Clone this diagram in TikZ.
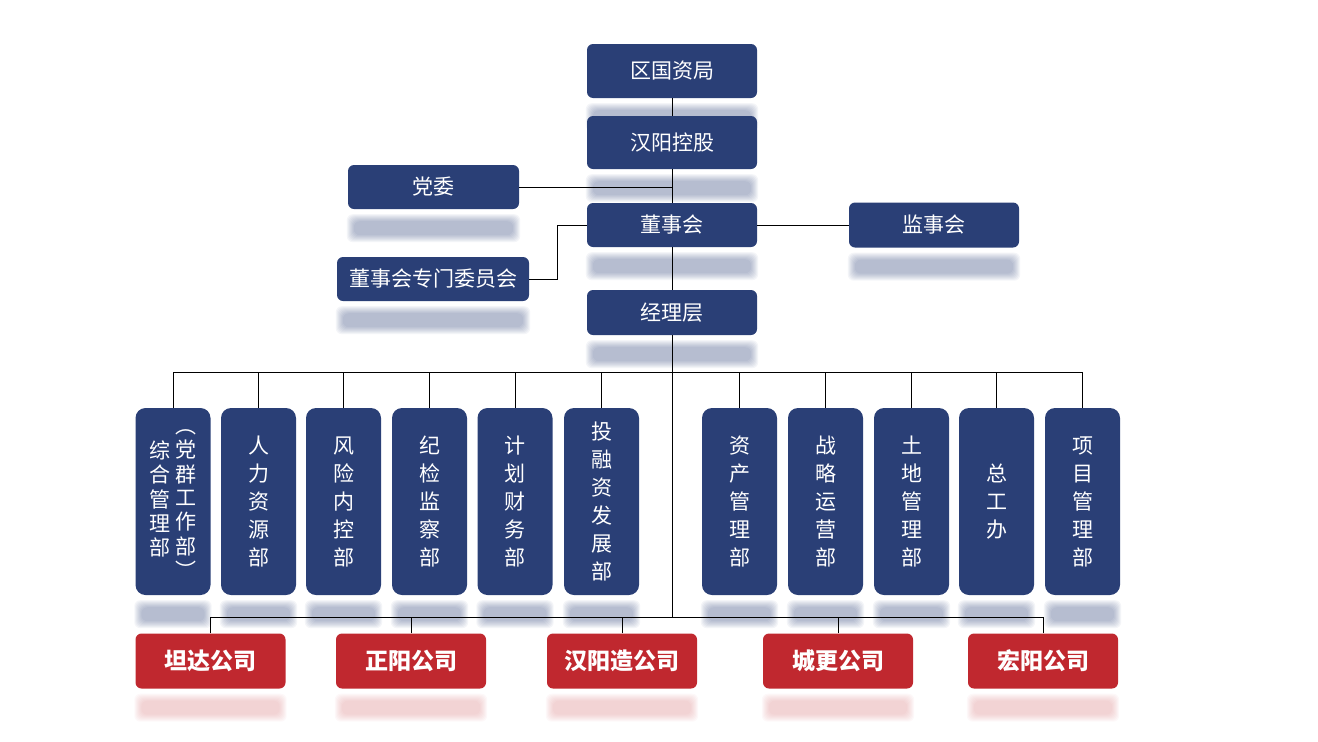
\documentclass[tikz,border=0pt]{standalone}
\usepackage{fontspec}
\setmainfont{Noto Sans CJK SC}
\usetikzlibrary{positioning,backgrounds}

\definecolor{boardblue}{HTML}{2A3F76}
\definecolor{firmred}{HTML}{C0282F}

\tikzset{
  unitbox/.style={fill=boardblue, text=white, rounded corners=6pt, inner sep=0pt,
    minimum width=170pt, minimum height=45pt, font=\fontsize{21}{25}\selectfont},
  deptbox/.style={unitbox, minimum width=75pt, minimum height=187pt, rounded corners=10pt,
    align=center, font=\fontsize{21}{28}\selectfont},
  firmbox/.style={unitbox, fill=firmred, minimum width=150pt, minimum height=55pt,
    font=\fontsize{23}{27}\selectfont\bfseries},
  haze/.style={fill=#1, opacity=.05, rounded corners=6pt},
  link/.style={draw=black, line width=0.8pt}
}

\begin{document}
\begin{tikzpicture}[x=1pt,y=-1pt]
    \useasboundingbox (0,0) rectangle (1318,742);
    % top of the chart
    \node[unitbox, minimum height=54pt] (gzj) at (672,71) {区国资局};
    \node[unitbox, minimum height=53pt] (kg) at (672,142.5) {汉阳控股};
    \node[unitbox, minimum width=171pt, minimum height=44pt] (dw) at (433.5,187) {党委};
    \node[unitbox, minimum height=44pt] (dsh) at (672,225) {董事会};
    \node[unitbox] (jsh) at (934,225) {监事会};
    \node[unitbox, minimum width=192pt, minimum height=44pt] (wyh) at (433,279) {董事会专门委员会};
    \node[unitbox] (jlc) at (672,312.5) {经理层};
    \draw[link] (gzj.south) -- (kg.north);
    \draw[link] (kg.south) -- (dsh.north);
    \draw[link] (dw.east) -- (dw.east -| kg.south);
    \draw[link] (dsh.east) -- (jsh.west);
    \draw[link] (dsh.west) -- ++(-29,0) |- (wyh.east);
    \draw[link] (dsh.south) -- (jlc.north);
    % departments
    \coordinate (deptbus) at (672,372);
    \coordinate (firmbus) at (672,617);
    \node[deptbox, font=\fontsize{21}{23}\selectfont] (d1) at (173,501.5)
      {\begin{tabular}{@{}c@{}}综\\合\\管\\理\\部\end{tabular}\hspace{5pt}\begin{tabular}{@{}c@{}}︵\\党\\群\\工\\作\\部\\︶\end{tabular}};
    \foreach \n/\x/\t in {2/258.5/{人\\力\\资\\源\\部}, 3/343.5/{风\\险\\内\\控\\部},
        4/429.5/{纪\\检\\监\\察\\部}, 5/515/{计\\划\\财\\务\\部}, 6/601.5/{投\\融\\资\\发\\展\\部},
        7/739.5/{资\\产\\管\\理\\部}, 8/825.5/{战\\略\\运\\营\\部}, 9/911.5/{土\\地\\管\\理\\部},
        10/996.5/{总\\工\\办}, 11/1082.5/{项\\目\\管\\理\\部}}{
      \node[deptbox] (d\n) at (\x,501.5) {\t};
    }
    % companies
    \foreach \n/\x/\t in {1/210.5/坦达公司, 2/411/正阳公司, 3/622/汉阳造公司, 4/838/城更公司, 5/1043/宏阳公司}{
      \node[firmbox] (c\n) at (\x,661) {\t};
    }
    \draw[link] (jlc.south) -- (firmbus);
    \foreach \n in {1,...,11}
      \draw[link] (d\n.north) |- (deptbus);
    \foreach \n in {1,...,5}
      \draw[link] (c\n.north) |- (firmbus);
    % soft shadows under the boxes
    \begin{pgfonlayer}{background}
      \foreach \b/\c in {gzj/boardblue, kg/boardblue, dw/boardblue, dsh/boardblue, jsh/boardblue,
          wyh/boardblue, jlc/boardblue, d1/boardblue, d2/boardblue, d3/boardblue, d4/boardblue,
          d5/boardblue, d6/boardblue, d7/boardblue, d8/boardblue, d9/boardblue, d10/boardblue,
          d11/boardblue, c1/firmred!60, c2/firmred!60, c3/firmred!60, c4/firmred!60, c5/firmred!60}
        \foreach \k [evaluate=\k as \e using 14-2*\k] in {0,...,7}
          \fill[haze=\c] ([shift={(6-\e,12-\e)}]\b.south west) rectangle ([shift={(\e-6,26+\e)}]\b.south east);
    \end{pgfonlayer}
\end{tikzpicture}
\end{document}
